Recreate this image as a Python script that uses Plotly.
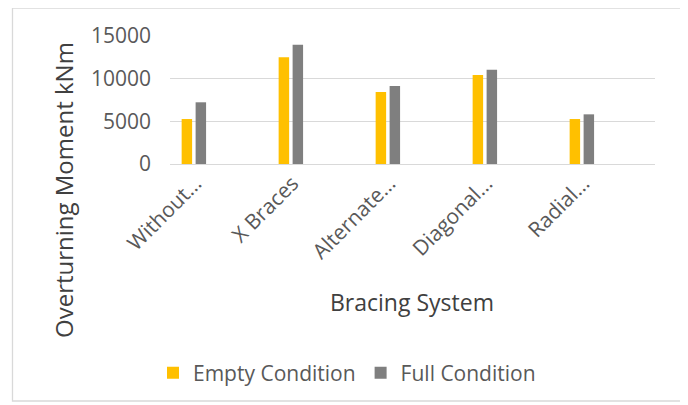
import plotly.graph_objects as go

categories = ["Without…", "X Braces", "Alternate…", "Diagonal…", "Radial…"]
empty_condition = [5270, 12500, 8440, 10430, 5270]
full_condition = [7230, 13980, 9140, 11050, 5820]
y_ticks = [0, 5000, 10000, 15000]

YELLOW = "#FFC000"
GRAY = "#7F7F7F"
FONT = "Open Sans"

# the page body has an 8px margin, so the figure is 8px smaller each way
OFF = 8
W, H = 688 - OFF, 405 - OFF
# plot area in page pixels
L, R, T, B = 170 - OFF, 655 - OFF, 36 - OFF, 164 - OFF
pw, ph = R - L, B - T


def px_x(p):
    return (p - OFF - L) / pw


def px_y(p):
    return (B - (p - OFF)) / ph


fig = go.Figure()
fig.add_trace(go.Bar(
    x=categories, y=empty_condition, name="Empty Condition",
    marker=dict(color=YELLOW, line=dict(width=0)),
    width=0.108, offset=-0.380,
))
fig.add_trace(go.Bar(
    x=categories, y=full_condition, name="Full Condition",
    marker=dict(color=GRAY, line=dict(width=0)),
    width=0.108, offset=-0.236,
))

fig.update_layout(
    width=W, height=H,
    margin=dict(l=L, r=W - R, t=T, b=H - B, autoexpand=False),
    paper_bgcolor="white", plot_bgcolor="white",
    font=dict(family=FONT, color="#595959"),
    showlegend=True,
    legend=dict(
        orientation="h", x=px_x(347), y=px_y(373),
        xanchor="center", yanchor="middle",
        font=dict(size=21, color="#595959", family=FONT),
        itemwidth=30, traceorder="normal",
    ),
    xaxis=dict(
        type="category", range=[-0.5, 4.5],
        tickangle=-45, showgrid=False, showline=False, zeroline=False,
        ticks="", tickfont=dict(size=21, color="#595959", family=FONT),
        ticklabelshift=-23, ticklabelstandoff=2,
        automargin=False,
    ),
    yaxis=dict(
        range=[0, 15000], tickvals=y_ticks, ticktext=[str(v) for v in y_ticks],
        showgrid=True, gridcolor="#D9D9D9", gridwidth=1.3,
        zeroline=True, zerolinecolor="#D9D9D9", zerolinewidth=1.3,
        showline=False, ticks="",
        tickfont=dict(size=21, color="#595959", family=FONT),
        ticklabelstandoff=18,
        automargin=False,
    ),
    annotations=[
        dict(text="Overturning Moment kNm", textangle=-90,
             xref="paper", yref="paper", x=px_x(63), y=px_y(190),
             xanchor="center", yanchor="middle", showarrow=False,
             font=dict(size=24, color="#404040", family=FONT)),
        dict(text="Bracing System",
             xref="paper", yref="paper", x=px_x(412), y=px_y(302),
             xanchor="center", yanchor="middle", showarrow=False,
             font=dict(size=23, color="#404040", family=FONT)),
    ],
    shapes=[
        dict(type="rect", xref="paper", yref="paper",
             x0=px_x(12.5), x1=px_x(683), y0=px_y(401), y1=px_y(8),
             line=dict(color="#D9D9D9", width=1.3), fillcolor="rgba(0,0,0,0)",
             layer="below"),
    ],
)

fig.write_html("out.html")
